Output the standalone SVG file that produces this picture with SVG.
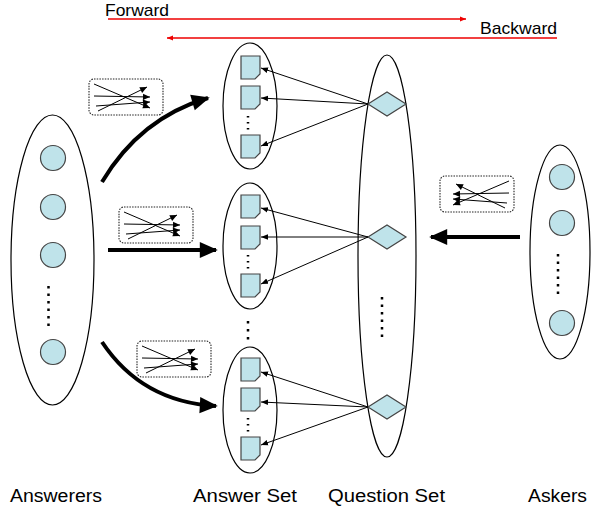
<svg xmlns="http://www.w3.org/2000/svg" xmlns:xlink="http://www.w3.org/1999/xlink" width="592" height="512" viewBox="0 0 592 512">
<style>
.lbl{font-family:"Liberation Sans",Arial,sans-serif;fill:#000}
.ell{fill:none;stroke:#000;stroke-width:1.2}
.node{fill:#bfe3ea;stroke:#444;stroke-width:1.2}
.thin{fill:none;stroke:#000;stroke-width:1}
.thick{fill:none;stroke:#000;stroke-width:4}
.red{fill:none;stroke:#e00;stroke-width:1.3}
.dots{fill:none;stroke:#000;stroke-width:2.5}
.box{fill:#fff;stroke:#222;stroke-width:1.1;stroke-dasharray:1.5 1.2}
</style>
<defs>
<marker id="ah" viewBox="0 0 10 10" refX="10" refY="5" markerWidth="7" markerHeight="7" markerUnits="userSpaceOnUse" orient="auto"><path d="M0,1 L10,5 L0,9 Z" fill="#000"/></marker>
<marker id="ah2" viewBox="0 0 10 10" refX="10" refY="5" markerWidth="8" markerHeight="7" markerUnits="userSpaceOnUse" orient="auto"><path d="M0,0.5 L10,5 L0,9.5 Z" fill="#000"/></marker>
<marker id="big" viewBox="0 0 10 10" refX="9" refY="5" markerWidth="20" markerHeight="18" markerUnits="userSpaceOnUse" orient="auto"><path d="M0,0.5 L10,5 L0,9.5 Z" fill="#000"/></marker>
<marker id="red" viewBox="0 0 10 10" refX="10" refY="5" markerWidth="8" markerHeight="6" markerUnits="userSpaceOnUse" orient="auto"><path d="M0,1 L10,5 L0,9 Z" fill="#e00"/></marker>
<g id="icon">
<rect class="box" x="0" y="0" width="74" height="36" rx="5"/>
<line class="thin" x1="5" y1="5" x2="61" y2="29" marker-end="url(#ah2)"/>
<line class="thin" x1="9" y1="32" x2="58" y2="8" marker-end="url(#ah2)"/>
<line class="thin" x1="5" y1="17" x2="61" y2="18" marker-end="url(#ah2)"/>
<line class="thin" x1="7" y1="27" x2="61" y2="23" marker-end="url(#ah2)"/>
</g>
<path id="doc" class="node" d="M0,0 H19 V18 L14,23 H0 Z"/>
</defs>

<g id="direction">
<text class="lbl" x="105" y="16" font-size="17" textLength="64" lengthAdjust="spacingAndGlyphs">Forward</text>
<line class="red" x1="108" y1="19" x2="466" y2="19" marker-end="url(#red)"/>
<text class="lbl" x="480" y="34" font-size="17" textLength="77" lengthAdjust="spacingAndGlyphs">Backward</text>
<line class="red" x1="557" y1="38" x2="167" y2="38" marker-end="url(#red)"/>
</g>

<g id="answerers">
<ellipse class="ell" cx="52.5" cy="260" rx="41.5" ry="145"/>
<circle class="node" cx="53" cy="158" r="12.5"/>
<circle class="node" cx="53" cy="207" r="12.5"/>
<circle class="node" cx="53" cy="255" r="12.5"/>
<circle class="node" cx="53" cy="352" r="12.5"/>
<line class="dots" x1="48.5" y1="286" x2="48.5" y2="327" stroke-dasharray="2.5 5"/>
</g>

<g id="answer-set-1">
<ellipse class="ell" cx="250" cy="106" rx="27" ry="63"/>
<use xlink:href="#doc" x="241" y="56"/>
<use xlink:href="#doc" x="241" y="86"/>
<use xlink:href="#doc" x="241" y="135"/>
<line class="dots" x1="248" y1="116" x2="248" y2="130" stroke-dasharray="1.5 4.5" stroke-width="2"/>
</g>
<g id="answer-set-2">
<ellipse class="ell" cx="250" cy="246" rx="27" ry="63"/>
<use xlink:href="#doc" x="241" y="195"/>
<use xlink:href="#doc" x="241" y="226"/>
<use xlink:href="#doc" x="241" y="274"/>
<line class="dots" x1="248" y1="255" x2="248" y2="269" stroke-dasharray="1.5 4.5" stroke-width="2"/>
</g>
<line class="dots" x1="248" y1="321" x2="248" y2="342" stroke-dasharray="2.5 5.5"/>
<g id="answer-set-3">
<ellipse class="ell" cx="250" cy="410" rx="27" ry="63"/>
<use xlink:href="#doc" x="241" y="358"/>
<use xlink:href="#doc" x="241" y="388"/>
<use xlink:href="#doc" x="241" y="437"/>
<line class="dots" x1="248" y1="418" x2="248" y2="432" stroke-dasharray="1.5 4.5" stroke-width="2"/>
</g>

<g id="question-set">
<ellipse class="ell" cx="387" cy="256" rx="29" ry="201"/>
<path class="node" d="M368,104 L387,92 L406,104 L387,116 Z"/>
<path class="node" d="M368,237 L387,225 L406,237 L387,249 Z"/>
<path class="node" d="M368,407 L387,395 L406,407 L387,419 Z"/>
<line class="dots" x1="382" y1="297" x2="382" y2="339" stroke-dasharray="2.5 5"/>
</g>

<g id="askers">
<ellipse class="ell" cx="560" cy="252" rx="30" ry="107"/>
<circle class="node" cx="562" cy="177" r="12.5"/>
<circle class="node" cx="562" cy="223" r="12.5"/>
<circle class="node" cx="562" cy="323" r="12.5"/>
<line class="dots" x1="558" y1="254" x2="558" y2="297" stroke-dasharray="2.5 5"/>
</g>

<g id="icons">
<use xlink:href="#icon" x="89" y="79"/>
<use xlink:href="#icon" x="119" y="207"/>
<use xlink:href="#icon" x="137" y="341"/>
<use xlink:href="#icon" transform="translate(514,176) scale(-1,1)"/>
</g>

<g id="connectors">
<path class="thick" d="M102,182 Q140,118 208,98" marker-end="url(#big)"/>
<line class="thick" x1="108" y1="250" x2="216" y2="250" marker-end="url(#big)"/>
<path class="thick" d="M102,342 Q142,402 216,406" marker-end="url(#big)"/>
<line class="thick" x1="520" y1="237" x2="431" y2="237" marker-end="url(#big)"/>
<line class="thin" x1="368" y1="104" x2="261" y2="68" marker-end="url(#ah)"/>
<line class="thin" x1="368" y1="104" x2="261" y2="98" marker-end="url(#ah)"/>
<line class="thin" x1="368" y1="104" x2="261" y2="146" marker-end="url(#ah)"/>
<line class="thin" x1="368" y1="237" x2="261" y2="208" marker-end="url(#ah)"/>
<line class="thin" x1="368" y1="237" x2="261" y2="237" marker-end="url(#ah)"/>
<line class="thin" x1="368" y1="237" x2="261" y2="284" marker-end="url(#ah)"/>
<line class="thin" x1="368" y1="407" x2="261" y2="372" marker-end="url(#ah)"/>
<line class="thin" x1="368" y1="407" x2="261" y2="402" marker-end="url(#ah)"/>
<line class="thin" x1="368" y1="407" x2="261" y2="445" marker-end="url(#ah)"/>
</g>

<g id="labels">
<text class="lbl" x="10" y="502" font-size="18" textLength="92" lengthAdjust="spacingAndGlyphs">Answerers</text>
<text class="lbl" x="193" y="502" font-size="18" textLength="104" lengthAdjust="spacingAndGlyphs">Answer Set</text>
<text class="lbl" x="328" y="502" font-size="18" textLength="117" lengthAdjust="spacingAndGlyphs">Question Set</text>
<text class="lbl" x="528" y="502" font-size="18" textLength="59" lengthAdjust="spacingAndGlyphs">Askers</text>
</g>
</svg>
